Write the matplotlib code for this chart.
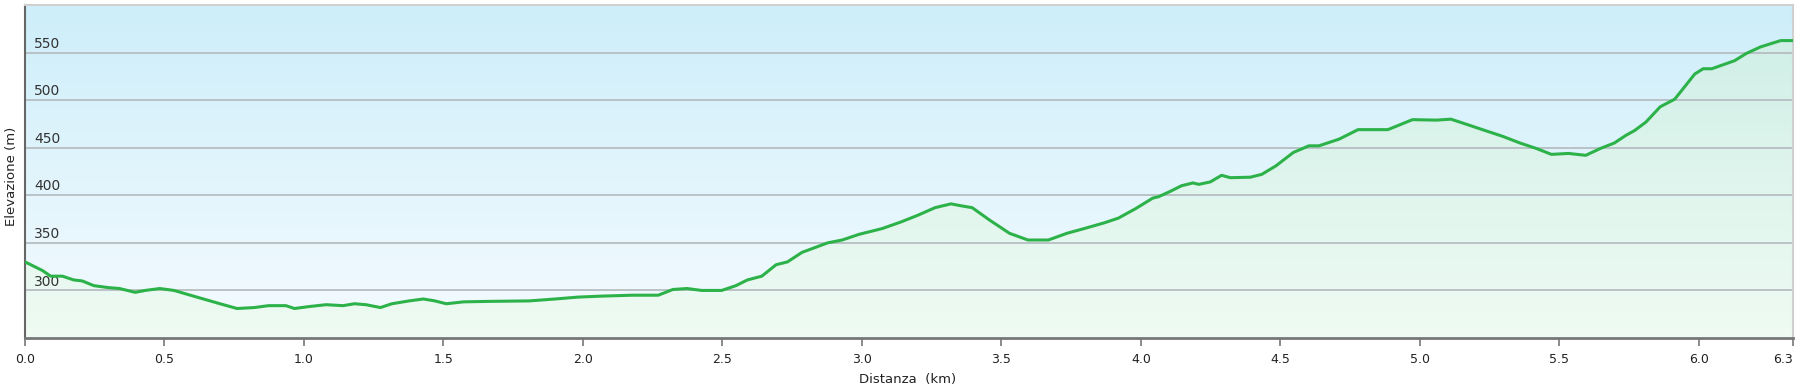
import numpy as np
import matplotlib.pyplot as plt
from matplotlib.colors import LinearSegmentedColormap

# --- dati del profilo altimetrico (km, m) ---
dist = [0.000, 0.062, 0.092, 0.134, 0.175, 0.205, 0.247, 0.298, 0.339, 0.395,
        0.431, 0.483, 0.534, 0.616, 0.699, 0.760, 0.822, 0.873, 0.935, 0.966,
        1.017, 1.079, 1.140, 1.181, 1.222, 1.274, 1.315, 1.377, 1.428, 1.469,
        1.510, 1.572, 1.664, 1.808, 1.900, 1.983, 2.065, 2.178, 2.270, 2.322,
        2.373, 2.425, 2.497, 2.548, 2.589, 2.641, 2.692, 2.733, 2.785, 2.877,
        2.929, 2.990, 3.072, 3.140, 3.200, 3.262, 3.319, 3.354, 3.395, 3.457,
        3.529, 3.595, 3.668, 3.734, 3.796, 3.868, 3.919, 3.981, 4.042, 4.063,
        4.104, 4.145, 4.186, 4.207, 4.248, 4.289, 4.320, 4.392, 4.433, 4.484,
        4.546, 4.602, 4.638, 4.710, 4.778, 4.885, 4.973, 5.059, 5.111, 5.173,
        5.234, 5.296, 5.358, 5.419, 5.471, 5.532, 5.594, 5.645, 5.697, 5.738,
        5.769, 5.810, 5.861, 5.913, 5.943, 5.985, 6.015, 6.046, 6.128, 6.169,
        6.221, 6.293, 6.337]
elev = [330, 321, 315, 315, 311, 310, 305, 303, 302, 298,
        300, 302, 300, 293, 286, 281, 282, 284, 284, 281,
        283, 285, 284, 286, 285, 282, 286, 289, 291, 289,
        286, 288, 288.5, 289, 291, 293, 294, 295, 295, 301,
        302, 300, 300, 305, 311, 315, 327, 330, 340, 350,
        353, 359, 365, 372, 379, 387, 391, 389, 387, 374,
        360, 353, 353, 360, 365, 371, 376, 386, 397, 398.5,
        404, 410, 413, 411.5, 414, 421, 418.5, 419, 422, 431,
        445, 452, 452, 459, 469, 469, 479.5, 479, 480, 474,
        468, 462, 455, 449, 443, 444, 442, 449, 455, 463,
        468, 477, 493, 501, 512, 527.5, 533, 533, 541.5, 549,
        556, 562.6, 562.6]

xticks = [0.0, 0.5, 1.0, 1.5, 2.0, 2.5, 3.0, 3.5, 4.0, 4.5, 5.0, 5.5, 6.0, 6.337]
xtick_labels = ["0.0", "0.5", "1.0", "1.5", "2.0", "2.5", "3.0", "3.5", "4.0",
                "4.5", "5.0", "5.5", "6.0", "6.3"]
ygrid = [300, 350, 400, 450, 500, 550]
ymin, ymax = 250, 600

fig = plt.figure(figsize=(18, 3.92), dpi=100)
ax = fig.add_axes([25 / 1800, 1 - 338 / 392, 1768 / 1800, 333 / 392])
xmax = dist[-1]

# sfondo sfumato azzurro
sky = LinearSegmentedColormap.from_list("sky", ["#f5fbff", "#cdeefa"])
grad = np.linspace(0, 1, 256).reshape(-1, 1)
ax.imshow(grad, extent=[0, xmax, ymin, ymax], origin="lower", aspect="auto",
          cmap=sky, zorder=0)

# area sotto il profilo, sfumatura verde
poly = ax.fill_between(dist, elev, ymin, color="none", lw=0)
mint = LinearSegmentedColormap.from_list("mint", ["#effbf3", "#cdeee6"])
im = ax.imshow(grad, extent=[0, xmax, ymin, ymax], origin="lower", aspect="auto",
               cmap=mint, zorder=1)
im.set_clip_path(poly.get_paths()[0], ax.transData)

# griglia orizzontale con etichette dentro il grafico
for v in ygrid:
    ax.axhline(v, color="#b6bec2", lw=1.3, zorder=2)
    ax.text(0.005, v + 2, str(v), transform=ax.get_yaxis_transform(),
            fontsize=10, color="#333333", va="bottom", ha="left", zorder=3)

ax.plot(dist, elev, color="#2db24a", lw=2.2, zorder=4,
        solid_joinstyle="round", solid_capstyle="round")

ax.set_xlim(0, xmax)
ax.set_ylim(ymin, ymax)
ax.set_yticks([])
ax.set_xticks(xticks)
ax.set_xticklabels(xtick_labels, fontsize=9, color="#222222")
ax.get_xticklabels()[-1].set_horizontalalignment("right")
ax.tick_params(axis="x", length=6, width=1.2, color="#777777", pad=5)

ax.spines["left"].set_color("#666666")
ax.spines["left"].set_linewidth(1.5)
ax.spines["bottom"].set_color("#777777")
ax.spines["bottom"].set_linewidth(2)
ax.spines["top"].set_color("#d0d0d0")
ax.spines["right"].set_color("#d0d0d0")
ax.spines["top"].set_linewidth(1.5)
ax.spines["right"].set_linewidth(1.5)

fig.text(908 / 1800, 1 - 379 / 392, "Distanza  (km)", fontsize=9.5,
         color="#222222", ha="center", va="center")
fig.text(12 / 1800, 1 - 176 / 392, "Elevazione (m)", fontsize=9.5,
         color="#222222", ha="center", va="center", rotation=90)

fig.savefig("out.png", dpi=100)
